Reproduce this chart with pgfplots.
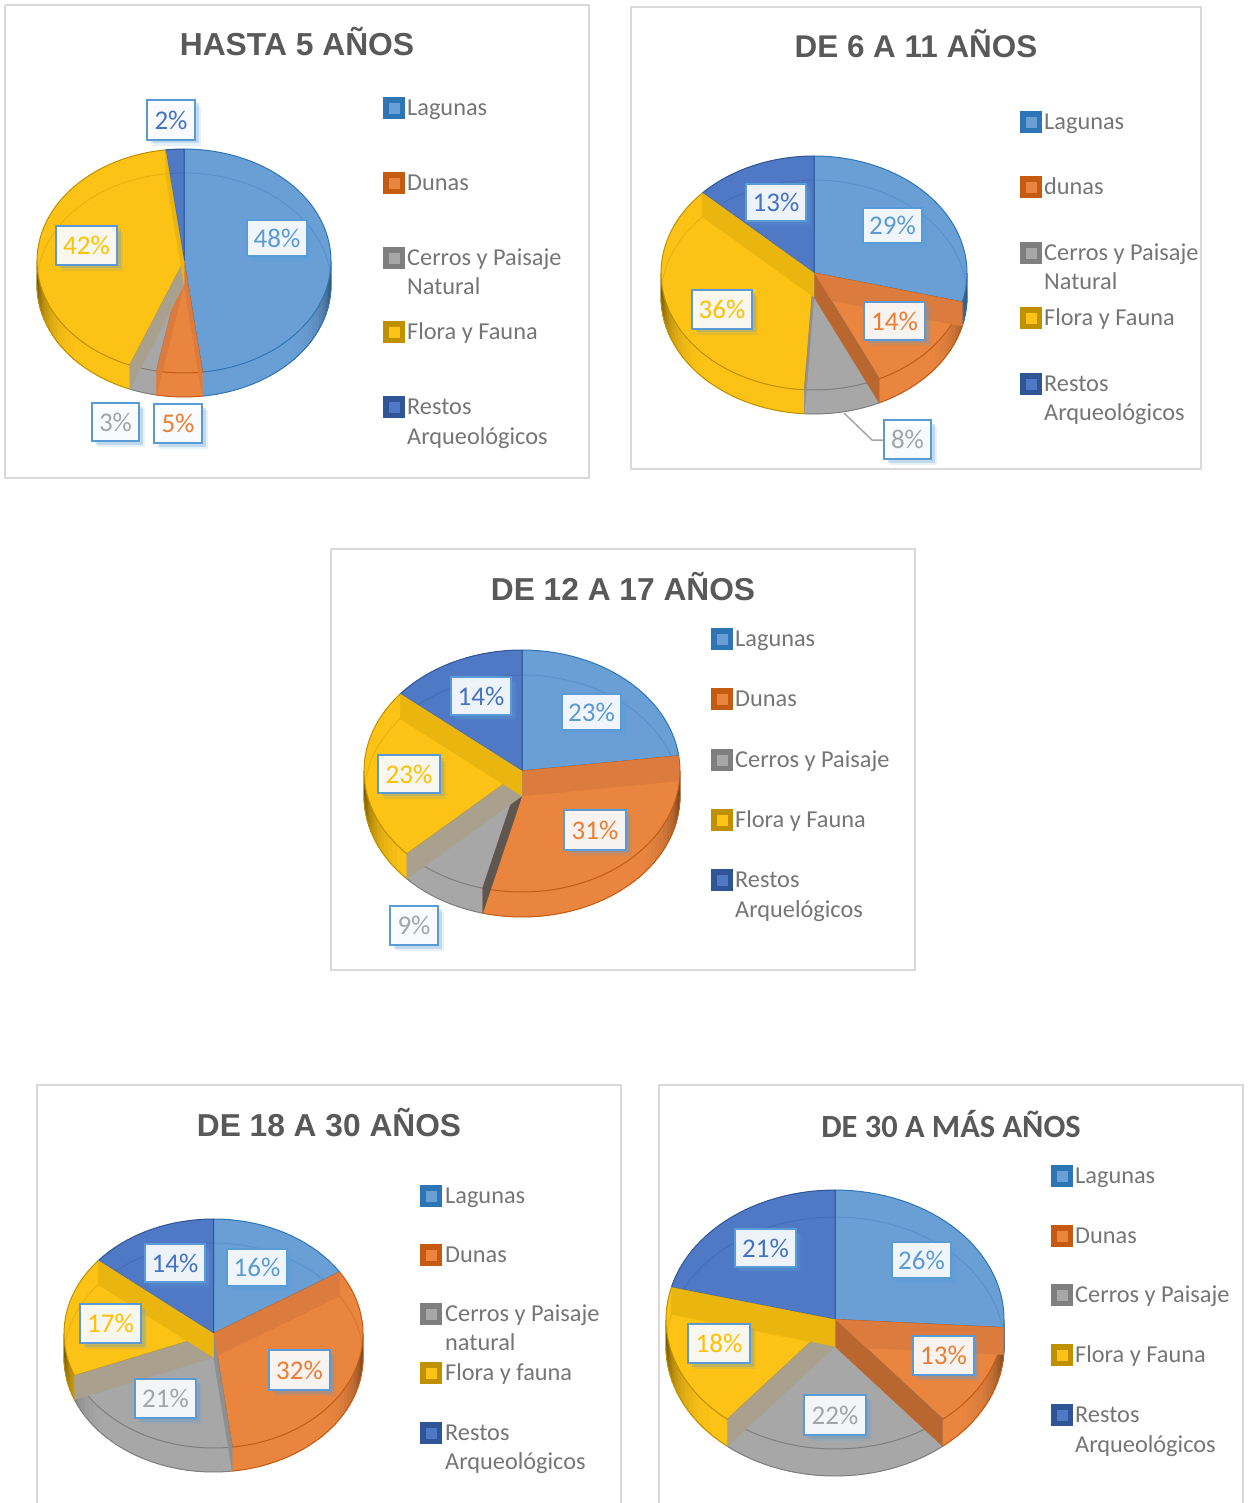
\documentclass[border=0pt]{standalone}
\usepackage{fontspec}
\usepackage{pgfplots}
\pgfplotsset{compat=1.18}
\usetikzlibrary{shadows}
\setmainfont{Carlito}
\newfontfamily\arialf{Liberation Sans}
\definecolor{cA}{HTML}{6A9FD6}\definecolor{eA}{HTML}{2E75B6}
\definecolor{cB}{HTML}{E9853F}\definecolor{eB}{HTML}{C55A11}
\definecolor{cC}{HTML}{A7A7A7}\definecolor{eC}{HTML}{7F7F7F}
\definecolor{cD}{HTML}{FCC215}\definecolor{eD}{HTML}{BF9000}
\definecolor{cE}{HTML}{4F79C4}\definecolor{eE}{HTML}{2F5597}
\definecolor{tA}{HTML}{5B9BD5}\definecolor{tB}{HTML}{ED7D31}
\definecolor{tC}{HTML}{A5A5A5}\definecolor{tD}{HTML}{FFC000}
\definecolor{tE}{HTML}{4472C4}
\definecolor{bO}{HTML}{DB7C3E}\definecolor{bB}{HTML}{B9672F}
\definecolor{bT}{HTML}{A9A18D}\definecolor{bY}{HTML}{EBB50F}
\definecolor{bD}{HTML}{5F5650}\definecolor{bG}{HTML}{8F8F8F}
\definecolor{frameC}{HTML}{D9D9D9}\definecolor{legT}{HTML}{757575}
\definecolor{titleC}{HTML}{595959}

\newcommand\setpie[5]{\def\pcx{#1}\def\pcy{#2}\def\prx{#3}\def\pry{#4}\def\pwl{#5}}
\newcommand\addarc[3]{%
  \pgfmathtruncatemacro\nn{max(1,ceil(abs(#2-(#1))/3))}%
  \pgfplotsforeachungrouped \ii in {0,...,\nn}{%
    \pgfmathsetmacro\tA{#1+(#2-(#1))*\ii/\nn}%
    \pgfmathsetmacro\px{\pcx+\prx*sin(\tA)}%
    \pgfmathsetmacro\py{\pcy-\pry*cos(\tA)+#3}%
    \edef\ptlist{\ptlist (\px,\py)}%
  }}
\newcommand\slicetop[4]{%
  \edef\ptlist{(\pcx,\pcy)}\addarc{#1}{#2}{0}%
  \edef\ptlist{\ptlist (\pcx,\pcy)}%
  \edef\cmd{\noexpand\addplot[fill=#3,draw=#4,line width=1pt,line join=round] coordinates {\ptlist};}\cmd}
\newcommand\wall[4]{%
  \pgfmathsetmacro\lo{max(#1,90)}\pgfmathsetmacro\hi{min(#2,270)}%
  \ifdim\hi pt>\lo pt
    % the plain wall of the slice, in one piece
    \def\ptlist{}\addarc{\lo}{\hi}{0}\addarc{\hi}{\lo}{\pwl}%
    \edef\cmd{\noexpand\addplot[fill=#3,draw=#3,line width=.4pt] coordinates {\ptlist};}\cmd
    % the darkening towards the two sides
    \pgfmathtruncatemacro\nw{max(1,ceil((\hi-\lo)/3))}%
    \pgfmathtruncatemacro\nwm{\nw-1}%
    \pgfplotsforeachungrouped \j in {0,...,\nwm}{%
      \pgfmathsetmacro\tp{\lo+(\hi-\lo)*\j/\nw}%
      \pgfmathsetmacro\tq{\lo+(\hi-\lo)*(\j+1)/\nw}%
      \pgfmathsetmacro\dd{abs((\tp+\tq)/2-180)}%
      \ifdim\dd pt>45pt
        \pgfmathsetmacro\pct{100-68*((\dd-45)/45)*((\dd-45)/45)}%
        \pgfmathsetmacro\xa{\pcx+\prx*sin(\tp)}%
        \pgfmathsetmacro\xb{\pcx+\prx*sin(\tq)}%
        \pgfmathsetmacro\ya{\pcy-\pry*cos(\tp)}%
        \pgfmathsetmacro\yb{\pcy-\pry*cos(\tq)}%
        \pgfmathsetmacro\yc{\yb+\pwl}%
        \pgfmathsetmacro\yd{\ya+\pwl}%
        \edef\cmd{\noexpand\addplot[fill=#3!\pct!black,draw=#3!\pct!black,line width=.8pt] coordinates {(\xa,\ya) (\xb,\yb) (\xb,\yc) (\xa,\yd) (\xa,\ya)};}\cmd
      \fi
    }%
    \def\ptlist{}\addarc{\lo}{\hi}{\pwl}%
    \edef\cmd{\noexpand\addplot[draw=#4,line width=1pt] coordinates {\ptlist};}\cmd
  \fi}
\newcommand\rear[3]{%
  \pgfmathsetmacro\hi{min(#2,90)}%
  \ifdim\hi pt>#1pt
    \def\ptlist{}\addarc{#1}{\hi}{\pwl}%
    \edef\cmd{\noexpand\addplot[draw=#3,opacity=.3,line width=1pt] coordinates {\ptlist};}\cmd
  \fi
  \pgfmathsetmacro\lo{max(#1,270)}%
  \ifdim#2pt>\lo pt
    \def\ptlist{}\addarc{\lo}{#2}{\pwl}%
    \edef\cmd{\noexpand\addplot[draw=#3,opacity=.3,line width=1pt] coordinates {\ptlist};}\cmd
  \fi}
\newcommand\band[2]{%
  \pgfmathsetmacro\xa{\pcx+\prx*sin(#1)}%
  \pgfmathsetmacro\ya{\pcy-\pry*cos(#1)}%
  \pgfmathsetmacro\yb{\ya+\pwl}%
  \pgfmathsetmacro\yc{\pcy+\pwl}%
  \edef\cmd{\noexpand\addplot[fill=#2,draw=#2,line width=.3pt] coordinates {(\pcx,\pcy) (\xa,\ya) (\xa,\yb) (\pcx,\yc) (\pcx,\pcy)};}\cmd}
% percentages of the five categories, and the colours of the four inner faces
\newcommand\pie[9]{%
  \pgfmathsetmacro\aA{3.6*#1}%
  \pgfmathsetmacro\aB{\aA+3.6*#2}%
  \pgfmathsetmacro\aC{\aB+3.6*#3}%
  \pgfmathsetmacro\aD{\aC+3.6*#4}%
  \wall{0}{\aA}{cA}{eA}\wall{\aA}{\aB}{cB}{eB}\wall{\aB}{\aC}{cC}{eC}\wall{\aC}{\aD}{cD}{eD}\wall{\aD}{360}{cE}{eE}%
  \slicetop{0}{\aA}{cA}{eA}\slicetop{\aA}{\aB}{cB}{eB}\slicetop{\aB}{\aC}{cC}{eC}\slicetop{\aC}{\aD}{cD}{eD}\slicetop{\aD}{360}{cE}{eE}%
  \rear{0}{\aA}{eA}\rear{\aA}{\aB}{eB}\rear{\aB}{\aC}{eC}\rear{\aC}{\aD}{eD}\rear{\aD}{360}{eE}%
  \band{\aA}{#6}\band{\aB}{#7}\band{\aC}{#8}\band{\aD}{#9}}
\newcommand\frameopen[4]{\addplot[draw=frameC,line width=2pt] coordinates {(#1,#4) (#1,#2) (#3,#2) (#3,#4)};}
\newcommand\frameclosed[4]{\addplot[draw=frameC,line width=2pt] coordinates {(#1,#2) (#3,#2) (#3,#4) (#1,#4) (#1,#2)};}
\newcommand\swatch[4]{%
  \addplot[only marks,mark=square*,mark size=10.5pt,mark options={fill=#3,draw=#3,rounded corners=1.5pt}] coordinates {(#1,#2)};
  \addplot[only marks,mark=square*,mark size=5pt,mark options={fill=#4,draw=#4}] coordinates {(#1,#2)};}
\newcommand\legfont{\fontsize{24.3}{24.3}\selectfont}
\newcommand\legline[3]{\node[anchor=base west,inner sep=0pt,text=legT,font=\legfont] at (axis cs:#1,#2+7.5) {#3};}
\newcommand\lab[6]{% x0 x1 y0 y1 text colour
  \node[draw=tA,line width=2.6pt,fill=white,fill opacity=.9,text opacity=1,draw opacity=1,inner sep=0pt,
    minimum width={#2-#1-2pt},minimum height={#4-#3-2pt},text=#6,font=\fontsize{27}{27}\selectfont,
    drop shadow={opacity=.14,fill=tA,shadow xshift=6pt,shadow yshift=-6pt},
    drop shadow={opacity=.28,fill=tA,shadow xshift=3.5pt,shadow yshift=-3.5pt}]
    at (axis cs:{(#1+#2)/2},{(#3+#4)/2}) {#5};}
\newcommand\ttl[4]{\node[text=titleC,inner sep=0pt,font=\arialf\bfseries\fontsize{#3}{#3}\selectfont] at (axis cs:#1,#2) {#4};}

\begin{document}
\begin{tikzpicture}
\useasboundingbox (0,0) rectangle (1251pt,1503pt);
\begin{axis}[hide axis,scale only axis,width=1251pt,height=1503pt,at={(0,0)},anchor=south west,
  xmin=0,xmax=1251,ymin=0,ymax=1503,y dir=reverse,clip=false]
% ---- frames
\frameclosed{5}{5}{589}{478}
\frameclosed{631}{7}{1201}{469}
\frameclosed{331}{549}{915}{970}
\frameopen{37}{1085}{621}{1503}
\frameopen{659}{1085}{1243}{1503}
% ---- pies
\setpie{184}{261}{147}{112}{24}
\pie{48}{5}{3}{42}{2}{bO}{bO}{bT}{bY}
\setpie{814}{273}{153}{117}{24}
\pie{29}{14}{8}{36}{13}{bO}{bB}{bG}{bY}
\setpie{522}{771}{158}{121}{25}
\pie{23}{31}{9}{23}{14}{bO}{bD}{bT}{bY}
\setpie{213.5}{1333.5}{149.5}{114.5}{24}
\pie{16}{32}{21}{17}{14}{bO}{bG}{bT}{bY}
\setpie{835}{1319.5}{169}{129.5}{27}
\pie{26}{13}{22}{18}{21}{bO}{bB}{bT}{bY}
% ---- leader line
\addplot[draw=tC,line width=1.5pt] coordinates {(844,413) (872,440) (883,440)};
% ---- titles
\ttl{297}{41.5}{31.8}{HASTA 5 AÑOS}
\ttl{916}{43.5}{31.4}{DE 6 A 11 AÑOS}
\ttl{623}{586.5}{31.7}{DE 12 A 17 AÑOS}
\ttl{329}{1122.5}{31.7}{DE 18 A 30 AÑOS}
\node[text=titleC,inner sep=0pt,font=\bfseries\fontsize{32.4}{32.4}\selectfont] at (axis cs:951,1124) {DE 30 A MÁS AÑOS};
% ---- legends
\swatch{394}{108}{eA}{cA}\legline{407}{108}{Lagunas}
\swatch{394}{183}{eB}{cB}\legline{407}{183}{Dunas}
\swatch{394}{258}{eC}{cC}\legline{407}{258}{Cerros y Paisaje}\legline{407}{287}{Natural}
\swatch{394}{332}{eD}{cD}\legline{407}{332}{Flora y Fauna}
\swatch{394}{407}{eE}{cE}\legline{407}{407}{Restos}\legline{407}{437}{Arqueológicos}
\renewcommand\legfont{\fontsize{23.8}{23.8}\selectfont}
\swatch{1031}{122}{eA}{cA}\legline{1044}{122}{Lagunas}
\swatch{1031}{187}{eB}{cB}\legline{1044}{187}{dunas}
\swatch{1031}{253}{eC}{cC}\legline{1044}{253}{Cerros y Paisaje}\legline{1044}{282}{Natural}
\swatch{1031}{318}{eD}{cD}\legline{1044}{318}{Flora y Fauna}
\swatch{1031}{384}{eE}{cE}\legline{1044}{384}{Restos}\legline{1044}{413}{Arqueológicos}
\renewcommand\legfont{\fontsize{24.3}{24.3}\selectfont}
\swatch{722}{639}{eA}{cA}\legline{735}{639}{Lagunas}
\swatch{722}{699}{eB}{cB}\legline{735}{699}{Dunas}
\swatch{722}{760}{eC}{cC}\legline{735}{760}{Cerros y Paisaje}
\swatch{722}{820}{eD}{cD}\legline{735}{820}{Flora y Fauna}
\swatch{722}{880}{eE}{cE}\legline{735}{880}{Restos}\legline{735}{910}{Arquelógicos}
\swatch{431}{1196}{eA}{cA}\legline{445}{1196}{Lagunas}
\swatch{431}{1255}{eB}{cB}\legline{445}{1255}{Dunas}
\swatch{431}{1314}{eC}{cC}\legline{445}{1314}{Cerros y Paisaje}\legline{445}{1343}{natural}
\swatch{431}{1373}{eD}{cD}\legline{445}{1373}{Flora y fauna}
\swatch{431}{1433}{eE}{cE}\legline{445}{1433}{Restos}\legline{445}{1462}{Arqueológicos}
\swatch{1062}{1176}{eA}{cA}\legline{1075}{1176}{Lagunas}
\swatch{1062}{1236}{eB}{cB}\legline{1075}{1236}{Dunas}
\swatch{1062}{1295}{eC}{cC}\legline{1075}{1295}{Cerros y Paisaje}
\swatch{1062}{1355}{eD}{cD}\legline{1075}{1355}{Flora y Fauna}
\swatch{1062}{1415}{eE}{cE}\legline{1075}{1415}{Restos}\legline{1075}{1445}{Arqueológicos}
% ---- data labels
\lab{146}{196}{99}{141}{2\%}{tE}
\lab{246}{308}{219}{257}{48\%}{tA}
\lab{55}{118}{225}{266}{42\%}{tD}
\lab{91}{140}{402}{442}{3\%}{tC}
\lab{153}{203}{403}{444}{5\%}{tB}
\lab{745}{807}{183}{222}{13\%}{tE}
\lab{862}{923}{207}{244}{29\%}{tA}
\lab{863}{926}{301}{341}{14\%}{tB}
\lab{691}{753}{289}{330}{36\%}{tD}
\lab{883}{932}{419}{460}{8\%}{tC}
\lab{450}{512}{676}{716}{14\%}{tE}
\lab{561}{622}{693}{731}{23\%}{tA}
\lab{377}{441}{754}{794}{23\%}{tD}
\lab{563}{627}{809}{851}{31\%}{tB}
\lab{389}{439}{905}{946}{9\%}{tC}
\lab{144}{206}{1243}{1283}{14\%}{tE}
\lab{226}{288}{1248}{1287}{16\%}{tA}
\lab{79}{142}{1303}{1344}{17\%}{tD}
\lab{268}{331}{1349}{1391}{32\%}{tB}
\lab{134}{197}{1378}{1419}{21\%}{tC}
\lab{734}{797}{1228}{1268}{21\%}{tE}
\lab{891}{952}{1241}{1279}{26\%}{tA}
\lab{687}{751}{1323}{1364}{18\%}{tD}
\lab{912}{975}{1335}{1376}{13\%}{tB}
\lab{803}{867}{1394}{1436}{22\%}{tC}
\end{axis}
\end{tikzpicture}
\end{document}
